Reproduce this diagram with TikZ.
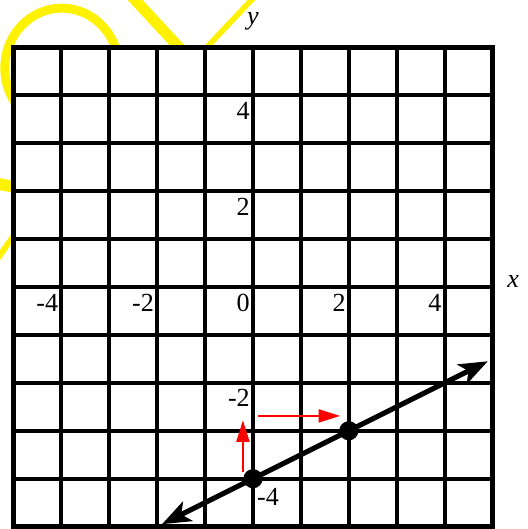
\documentclass[tikz,border=0pt]{standalone}
\usepackage{fontspec}
\setmainfont{Liberation Serif}
\usetikzlibrary{arrows.meta, positioning}

\begin{document}
\begin{tikzpicture}[
        gridline/.style={line width=2.4pt, draw=black},
        frame/.style={line width=3pt, draw=black},
        scribble/.style={draw=yellow, line cap=butt},
        graphline/.style={line width=3pt, {Stealth[length=6mm, width=4.5mm, inset=1.5mm]}-{Stealth[length=6mm, width=4.5mm, inset=1.5mm]}},
        redarrow/.style={draw=red, line width=1.2pt, -{Triangle[length=4.5mm, width=2.7mm]}},
        dot/.style={circle, fill=black, inner sep=0pt, minimum size=4mm},
        ticklabel/.style={font=\fontsize{15.5}{18}\selectfont, inner sep=0pt},
        axislabel/.style={font=\fontsize{15.5}{18}\selectfont\itshape, inner sep=0pt}
    ]
        \useasboundingbox (-5.28,-5.05) rectangle (5.72,5.99);

        % Yellow scribble behind the grid
        \draw [scribble, line width=5.3pt] (-3.99,4.57) ellipse [x radius=1.19, y radius=1.25];
        \draw [scribble, line width=6.5pt] (-2.61,6.15) -- (-1.17,4.6);
        \draw [scribble, line width=3.3pt] (-1.1,4.86) -- (0.1,6.13);
        \draw [scribble, line width=7pt] (-5.4,2.17) -- (-4.8,2.05);
        \draw [scribble, line width=3.5pt] (-4.9,1.2) -- (-5.4,0.5);

        % Grid
        \fill [white] (-5,-5) rectangle (5,5);
        \draw [gridline] (-5,-5) grid (5,5);
        \draw [frame] (-5,-5) rectangle (5,5);

        % Tick labels
        \foreach \k in {-4,-2,0,2,4}
            \node (xtick\k) [ticklabel, anchor=base east] at (\k-0.06,-0.52) {\k};
        \foreach \k in {4,2,-2}
            \node (ytick\k) [ticklabel, anchor=base east] at (-0.06,\k-0.5) {\k};
        \node (ytickm4) [ticklabel, anchor=base west] at (0.08,-4.55) {-4};

        % Axis labels
        \node (xlab) [axislabel, anchor=base west] at (5.30,-0.02) {x};
        \node (ylab) [axislabel, anchor=base west] at (-0.13,5.47) {y};

        % The line and its points
        \coordinate (lineLo) at (-1.9,-4.95);
        \coordinate (lineHi) at (4.9,-1.55);
        \draw [graphline] (lineLo) -- (lineHi);
        \node (ptA) [dot] at (0,-4) {};
        \node (ptB) [dot] at (2,-3) {};

        % Rise and run
        \coordinate (riseFoot) at (-0.21,-3.86);
        \coordinate (riseTop) at (-0.21,-2.78);
        \coordinate (runFoot) at (0.10,-2.69);
        \coordinate (runTop) at (1.82,-2.69);
        \draw [redarrow] (riseFoot) -- (riseTop);
        \draw [redarrow] (runFoot) -- (runTop);

    \end{tikzpicture}
\end{document}
